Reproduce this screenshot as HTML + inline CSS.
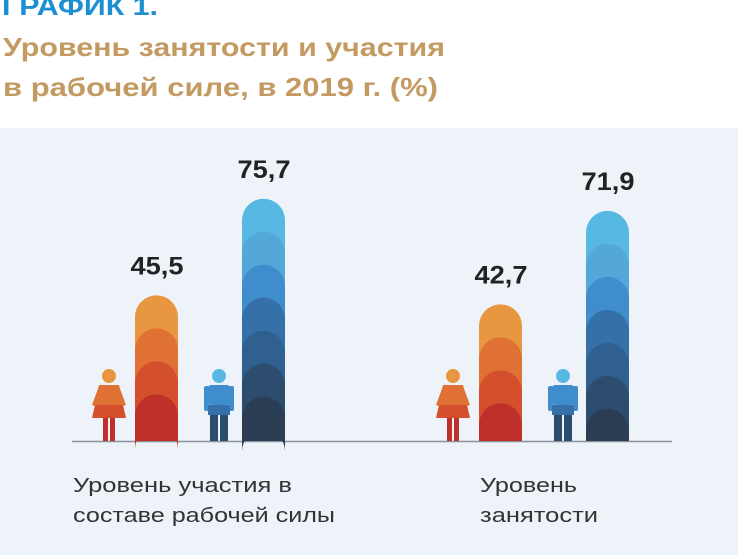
<!DOCTYPE html>
<html><head><meta charset="utf-8">
<style>
html,body{margin:0;padding:0;background:#fff;}
body{width:740px;height:555px;overflow:hidden;position:relative;font-family:"Liberation Sans",sans-serif;}
</style></head>
<body>
<svg width="740" height="555" viewBox="0 0 740 555" xmlns="http://www.w3.org/2000/svg">
<text x="2" y="15" font-family="Liberation Sans, sans-serif" font-weight="bold" font-size="26" fill="#1b8fd2" textLength="156" lengthAdjust="spacingAndGlyphs">ГРАФИК 1.</text>
<text x="3" y="56" font-family="Liberation Sans, sans-serif" font-weight="bold" font-size="26" fill="#c39b62" textLength="442" lengthAdjust="spacingAndGlyphs">Уровень занятости и участия</text>
<text x="3" y="96" font-family="Liberation Sans, sans-serif" font-weight="bold" font-size="26" fill="#c39b62" textLength="435" lengthAdjust="spacingAndGlyphs">в рабочей силе, в 2019 г. (%)</text>
<rect x="0" y="128" width="738" height="427" fill="#eef3fa"/>
<line x1="72" y1="441.5" x2="672" y2="441.5" stroke="#8a8f98" stroke-width="1.5"/>
<g id="marks"></g>
<text x="73" y="492" font-size="20" fill="#333" textLength="219" lengthAdjust="spacingAndGlyphs">Уровень участия в</text>
<text x="73" y="522" font-size="20" fill="#333" textLength="262" lengthAdjust="spacingAndGlyphs">составе рабочей силы</text>
<text x="480" y="492" font-size="20" fill="#333" textLength="97" lengthAdjust="spacingAndGlyphs">Уровень</text>
<text x="480" y="522" font-size="20" fill="#333" textLength="118" lengthAdjust="spacingAndGlyphs">занятости</text>
</svg>
<script>
const categories = ["participation", "employment"];
const womenValues = [45.5, 42.7];
const menValues = [75.7, 71.9];
const valueLabels = ["45,5", "75,7", "42,7", "71,9"];

const NS = "http://www.w3.org/2000/svg";
const baseY = 441;
const pxPerUnit = 3.2;
const yScale = v => baseY - v * pxPerUnit;
const groupX = [135, 479];
const barW = 43;
const step = 33;
const warm = ["#e8963f", "#e07134", "#d4502c", "#bf302b"];
const cool = ["#57b9e3", "#53a7d9", "#3f8dcc", "#3571a8", "#2f6090", "#2c4d6e", "#2a3d53"];
const g = document.getElementById("marks");

function mk(tag, attrs) {
  const e = document.createElementNS(NS, tag);
  for (const k in attrs) e.setAttribute(k, attrs[k]);
  g.appendChild(e);
  return e;
}

function bar(x, value, colors, label, name) {
  const top = yScale(value);
  const r = barW / 2;
  let i = 0;
  for (let t = top; t < baseY - 10; t += step, i++) {
    const c = colors[Math.min(i, colors.length - 1)];
    const p = mk("path", {
      d: `M${x},${baseY} L${x},${t + r} A${r},${r} 0 0 1 ${x + barW},${t + r} L${x + barW},${baseY} Z`,
      fill: c
    });
    
    
  }
  const tx = mk("text", {x: x + barW / 2 - 26, y: top - 21, "font-size": "25", "font-weight": "bold", fill: "#222", textLength: "53", lengthAdjust: "spacingAndGlyphs"});
  tx.textContent = label;
  
  
}

function woman(cx) {
  const parts = [
    ["circle", {cx: cx, cy: 376, r: 7, fill: "#e8963f"}],
    ["path", {d: `M${cx-10},385 L${cx+10},385 L${cx+14},405 L${cx-14},405 Z`, fill: "#e07134"}],
    ["path", {d: `M${cx-14},405 L${cx+14},405 L${cx+17},418 L${cx-17},418 Z`, fill: "#d4502c"}],
    ["rect", {x: cx-6, y: 418, width: 5, height: 23, fill: "#bf302b"}],
    ["rect", {x: cx+1, y: 418, width: 5, height: 23, fill: "#bf302b"}],
    ["path", {d: `M${cx-10},386 L${cx-17},405 L${cx-14},406 L${cx-8},392 Z`, fill: "#e07134"}],
    ["path", {d: `M${cx+10},386 L${cx+17},405 L${cx+14},406 L${cx+8},392 Z`, fill: "#e07134"}]
  ];
  parts.forEach(([t, a]) => {
    const e = mk(t, a);
    
    
  });
}

function man(cx) {
  const parts = [
    ["circle", {cx: cx, cy: 376, r: 7, fill: "#57b9e3"}],
    ["rect", {x: cx-11, y: 385, width: 22, height: 20, rx: 3, fill: "#3f8dcc"}],
    ["rect", {x: cx-15, y: 386, width: 5, height: 25, rx: 2, fill: "#3f8dcc"}],
    ["rect", {x: cx+10, y: 386, width: 5, height: 25, rx: 2, fill: "#3f8dcc"}],
    ["rect", {x: cx-11, y: 405, width: 22, height: 10, fill: "#3571a8"}],
    ["rect", {x: cx-9, y: 415, width: 8, height: 26, fill: "#2c4d6e"}],
    ["rect", {x: cx+1, y: 415, width: 8, height: 26, fill: "#2c4d6e"}]
  ];
  parts.forEach(([t, a]) => {
    const e = mk(t, a);
    
    
  });
}

categories.forEach((c, i) => {
  const x = groupX[i];
  woman(x - 26);
  man(x + 84);
  bar(x, womenValues[i], warm, valueLabels[i * 2], "bar-women-" + c);
  bar(x + 107, menValues[i], cool, valueLabels[i * 2 + 1], "bar-men-" + c);
});
</script>
</body></html>
